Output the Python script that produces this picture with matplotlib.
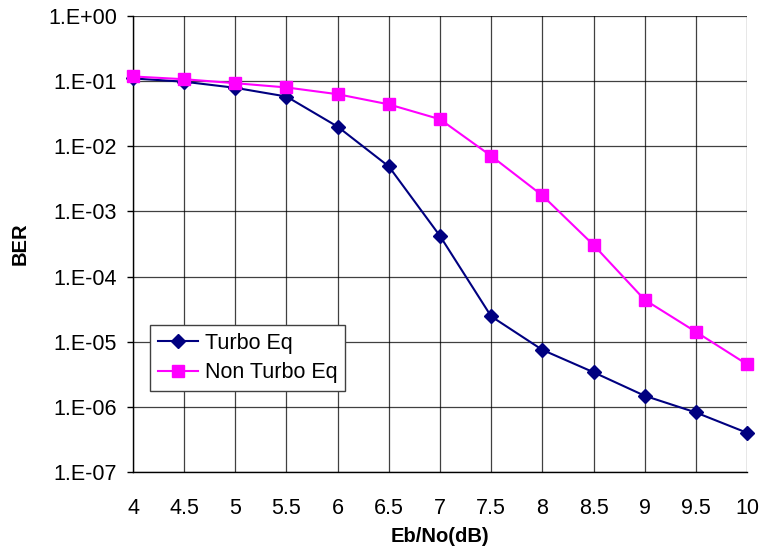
import math
import matplotlib
matplotlib.use("Agg")
import matplotlib.pyplot as plt
from matplotlib.ticker import FixedLocator, FuncFormatter

plt.rcParams['font.family'] = ['Liberation Sans', 'DejaVu Sans']

ebno = [4, 4.5, 5, 5.5, 6, 6.5, 7, 7.5, 8, 8.5, 9, 9.5, 10]
turbo_eq = [0.11, 0.098, 0.079, 0.058, 0.02, 0.0049, 4.2e-4, 2.45e-5,
            7.5e-6, 3.4e-6, 1.48e-6, 8.2e-7, 4.0e-7]
non_turbo_eq = [0.118, 0.107, 0.093, 0.08, 0.063, 0.044, 0.026, 0.0071,
                0.00176, 3.06e-4, 4.4e-5, 1.42e-5, 4.5e-6]
x_ticks = ["4", "4.5", "5", "5.5", "6", "6.5", "7", "7.5", "8", "8.5", "9", "9.5", "10"]

left, right, top, bottom = 133, 747, 16, 472
W, H = 760, 552

fig = plt.figure(figsize=(W / 100, H / 100), dpi=100)
ax = fig.add_axes([left / W, (H - bottom) / H, (right - left) / W, (bottom - top) / H])

ax.plot(ebno, turbo_eq, color='#000080', marker='D', markersize=7,
        linewidth=1.5, label='Turbo Eq', clip_on=False, zorder=3)
ax.plot(ebno, non_turbo_eq, color='#FF00FF', marker='s', markersize=8.5,
        linewidth=1.5, label='Non Turbo Eq', clip_on=False, zorder=3)

ax.set_yscale('log')
ax.set_ylim(1e-7, 1)
ax.set_xlim(4, 10)
ax.yaxis.set_major_locator(FixedLocator([10.0 ** e for e in range(-7, 1)]))
ax.yaxis.set_minor_locator(FixedLocator([]))
ax.yaxis.set_major_formatter(FuncFormatter(lambda v, p: "1.E%+03d" % round(math.log10(v))))
ax.set_xticks(ebno)
ax.set_xticklabels(x_ticks)

ax.tick_params(axis='both', labelsize=15.5, colors='black')
ax.tick_params(axis='y', direction='out', length=4.5, width=1, pad=7)
ax.tick_params(axis='x', length=0, pad=19)

ax.grid(True, which='major', color='#000000', linewidth=0.9, alpha=0.75)
ax.set_axisbelow(True)
for side in ['top', 'right']:
    ax.spines[side].set_visible(False)
ax.spines['left'].set_linewidth(1)
ax.spines['bottom'].set_linewidth(1)

ax.set_xlabel('Eb/No(dB)', fontsize=14.5, fontweight='bold', va='center')
ax.set_ylabel('BER', fontsize=14.5, fontweight='bold', va='center')
ax.xaxis.set_label_coords(0.5, -(537 - bottom) / (bottom - top))
ax.yaxis.set_label_coords((20 - left) / (right - left), 0.5)

leg = ax.legend(loc='lower left', bbox_to_anchor=((150 - left) / (right - left), (bottom - 391) / (bottom - top)),
                borderaxespad=0, fontsize=15.5, frameon=True, fancybox=False,
                edgecolor='#404040', handlelength=1.9, handletextpad=0.3,
                borderpad=0.35, labelspacing=0.4)
leg.get_frame().set_linewidth(1)
leg.get_frame().set_alpha(1)
leg.get_frame().set_facecolor('white')

fig.savefig('out.png', dpi=100)
